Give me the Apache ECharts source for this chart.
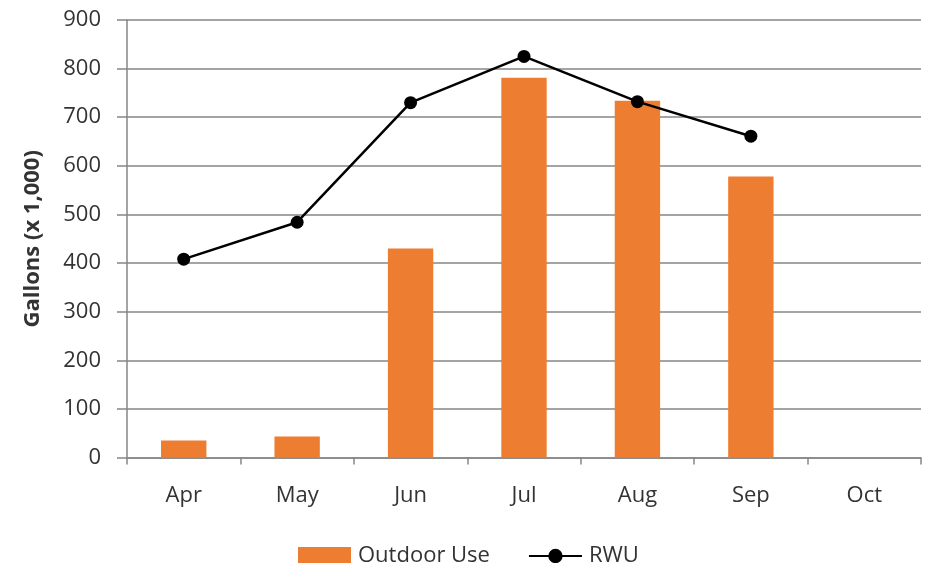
<!DOCTYPE html>
<html><head><meta charset="utf-8">
<script src="https://cdn.jsdelivr.net/npm/echarts@6/dist/echarts.min.js"></script>
<style>html,body{margin:0;padding:0;background:#fff}#c{width:931px;height:563px}</style>
</head><body><div id="c"></div>
<script>
const categories = ['Apr','May','Jun','Jul','Aug','Sep','Oct'];
const outdoorUse = [35, 43, 430, 781, 734, 578, null];
const rwu = [408, 484, 730, 825, 732, 661, null];
const yTicks = [0, 100, 200, 300, 400, 500, 600, 700, 800, 900];

const chart = echarts.init(document.getElementById('c'));
const font = '"Open Sans", "Liberation Sans", sans-serif';
chart.setOption({
  animation: false,
  textStyle: { fontFamily: font },
  grid: { left: 127, right: 10, top: 20, bottom: 105.5 },
  legend: {
    top: 540, left: 293, itemGap: 38, itemWidth: 53, itemHeight: 18,
    textStyle: { fontSize: 22, color: '#333', fontFamily: font, padding: [0,0,0,2] },
    data: [
      { name: 'Outdoor Use', icon: 'rect' },
      { name: 'RWU' }
    ]
  },
  xAxis: {
    type: 'category', data: categories, boundaryGap: true,
    axisLine: { lineStyle: { color: '#868686', width: 1.5 } },
    axisTick: { show: true, length: 7, lineStyle: { color: '#868686', width: 1.5 } },
    axisLabel: { fontSize: 22, color: '#333', margin: 27, fontFamily: font }
  },
  yAxis: {
    type: 'value', min: yTicks[0], max: yTicks[yTicks.length-1], interval: 100,
    name: 'Gallons (x 1,000)', nameLocation: 'middle', nameGap: 83, nameRotate: 90,
    nameTextStyle: { fontSize: 22, fontWeight: 'bold', color: '#333', fontFamily: font },
    axisLine: { show: true, lineStyle: { color: '#868686', width: 1.5 } },
    axisTick: { show: true, length: 10, lineStyle: { color: '#868686', width: 1.5 } },
    axisLabel: { fontSize: 22, color: '#333', margin: 26, fontFamily: font },
    splitLine: { lineStyle: { color: '#868686', width: 1.5 } }
  },
  series: [
    { name: 'Outdoor Use', type: 'bar', data: outdoorUse, barWidth: '40%',
      itemStyle: { color: '#ED7D31' } },
    { name: 'RWU', type: 'line', data: rwu, symbol: 'circle', symbolSize: 13,
      lineStyle: { color: '#000', width: 2.5 }, itemStyle: { color: '#000' } }
  ]
});
</script></body></html>
